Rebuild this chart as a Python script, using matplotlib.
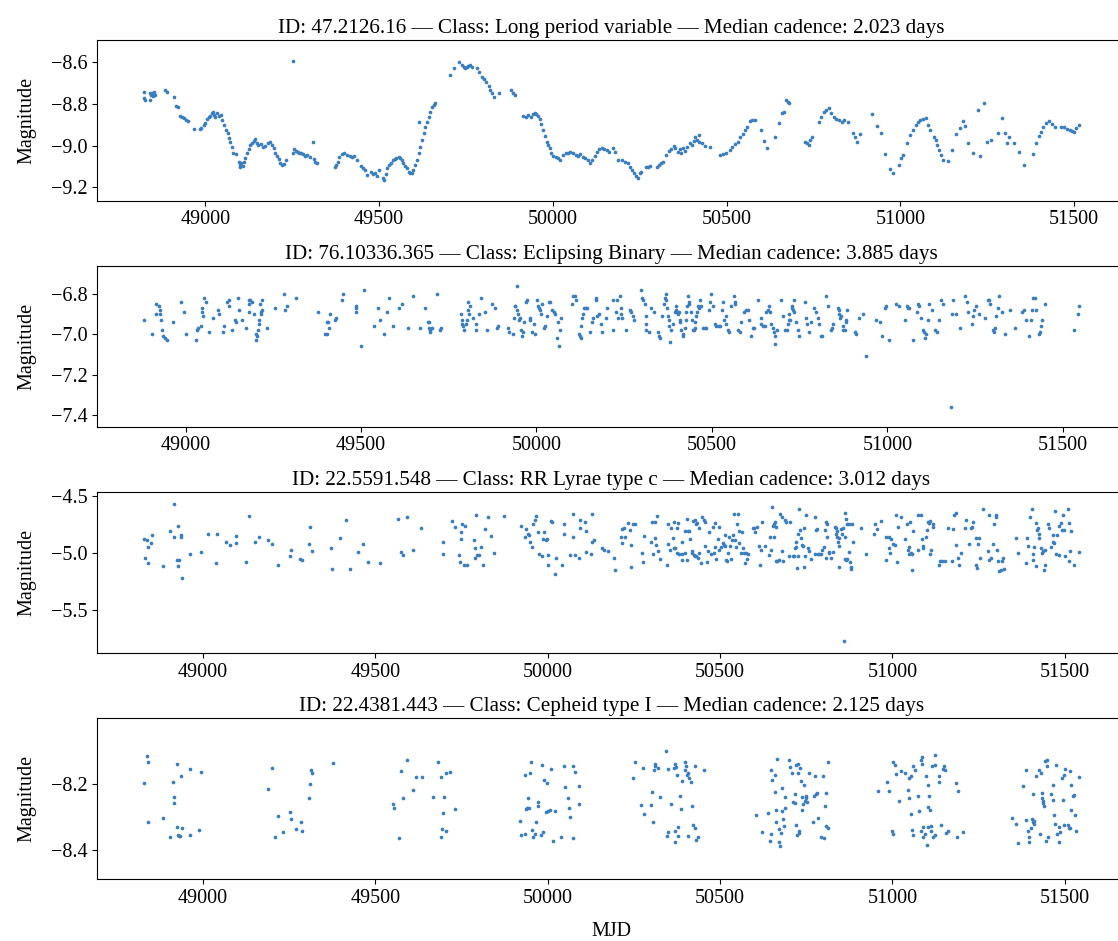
import numpy as np
import matplotlib
matplotlib.use("Agg")
import matplotlib.pyplot as plt
from matplotlib.ticker import MaxNLocator, MultipleLocator

# light curves: (MJD, magnitude)
lpv_points = [
    (48823, -8.741), (48823, -8.773), (48826, -8.781), (48840, -8.749), (48842, -8.781), (48844, -8.757),
    (48847, -8.749), (48850, -8.762), (48853, -8.742), (48856, -8.757), (48885, -8.733), (48890, -8.741),
    (48909, -8.768), (48917, -8.810), (48921, -8.816), (48928, -8.856), (48933, -8.864), (48940, -8.869),
    (48945, -8.877), (48949, -8.882), (48966, -8.918), (48984, -8.922), (48988, -8.914), (48995, -8.901),
    (49000, -8.890), (49005, -8.874), (49010, -8.864), (49014, -8.858), (49019, -8.845), (49022, -8.837),
    (49026, -8.853), (49029, -8.864), (49034, -8.842), (49038, -8.858), (49045, -8.853), (49048, -8.877),
    (49053, -8.901), (49060, -8.925), (49064, -8.941), (49068, -8.965), (49072, -8.981), (49076, -9.005),
    (49081, -9.034), (49088, -9.040), (49096, -9.077), (49099, -9.093), (49101, -9.104), (49104, -9.085),
    (49107, -9.098), (49110, -9.077), (49115, -9.061), (49120, -9.037), (49125, -9.018), (49129, -8.997),
    (49134, -8.989), (49139, -8.976), (49144, -8.970), (49149, -8.986), (49153, -8.997), (49160, -8.992),
    (49165, -9.005), (49173, -9.002), (49179, -8.989), (49187, -8.981), (49192, -8.997), (49197, -9.013),
    (49201, -9.034), (49206, -9.050), (49211, -9.066), (49216, -9.085), (49221, -9.093), (49225, -9.088),
    (49233, -9.069), (49251, -8.592), (49252, -9.034), (49256, -9.018), (49262, -9.024), (49266, -9.029),
    (49271, -9.037), (49275, -9.034), (49281, -9.040), (49288, -9.050), (49294, -9.045), (49302, -9.053),
    (49310, -8.984), (49312, -9.066), (49316, -9.077), (49321, -9.085),
    (49374, -9.104), (49377, -9.093), (49381, -9.077), (49386, -9.053), (49393, -9.040), (49400, -9.037),
    (49407, -9.045), (49415, -9.050), (49422, -9.053), (49427, -9.050), (49436, -9.069), (49448, -9.098),
    (49454, -9.109), (49460, -9.117), (49465, -9.141), (49477, -9.125), (49482, -9.136), (49489, -9.130),
    (49494, -9.149), (49499, -9.117), (49511, -9.157), (49515, -9.165), (49519, -9.136), (49524, -9.109),
    (49530, -9.093), (49535, -9.085), (49540, -9.072), (49545, -9.066), (49549, -9.058), (49556, -9.053),
    (49561, -9.061), (49566, -9.069), (49570, -9.082), (49575, -9.098), (49580, -9.109), (49585, -9.125),
    (49590, -9.133), (49595, -9.130), (49599, -9.117), (49604, -9.093), (49609, -9.069), (49614, -8.885),
    (49615, -9.037), (49618, -9.008), (49623, -8.973), (49628, -8.941), (49633, -8.909), (49638, -8.885),
    (49643, -8.864), (49647, -8.837), (49652, -8.816), (49657, -8.805), (49662, -8.794),
    (49703, -8.661), (49717, -8.629), (49731, -8.597), (49738, -8.613), (49743, -8.621), (49748, -8.629),
    (49753, -8.624), (49757, -8.618), (49762, -8.613), (49767, -8.624), (49783, -8.629), (49789, -8.645),
    (49796, -8.669), (49802, -8.682), (49808, -8.693), (49815, -8.714), (49820, -8.733), (49825, -8.746),
    (49831, -8.765), (49844, -8.746), (49879, -8.733), (49884, -8.746), (49891, -8.757),
    (49915, -8.858), (49923, -8.864), (49929, -8.853), (49936, -8.864), (49942, -8.848), (49948, -8.842),
    (49953, -8.848), (49958, -8.858), (49962, -8.874), (49967, -8.896), (49972, -8.925), (49977, -8.954),
    (49982, -8.981), (49987, -8.997), (49991, -9.013), (49996, -9.034), (50001, -9.050), (50008, -9.053),
    (50015, -9.058), (50021, -9.069), (50029, -9.045), (50037, -9.037), (50044, -9.034), (50050, -9.029),
    (50058, -9.037), (50066, -9.045), (50072, -9.050), (50077, -9.040), (50087, -9.056), (50094, -9.061),
    (50102, -9.072), (50107, -9.082), (50112, -9.072), (50121, -9.050), (50126, -9.029), (50134, -9.018),
    (50141, -9.013), (50148, -9.018), (50155, -9.021), (50163, -9.029), (50173, -9.013), (50178, -9.029),
    (50188, -9.069), (50198, -9.072), (50207, -9.077), (50216, -9.085), (50223, -9.101), (50228, -9.117),
    (50233, -9.133), (50238, -9.149), (50245, -9.157), (50250, -9.133), (50255, -9.125), (50267, -9.104),
    (50274, -9.101), (50279, -9.098), (50300, -9.101), (50306, -9.093), (50310, -9.082), (50317, -9.077),
    (50326, -9.045), (50334, -9.024), (50341, -9.018), (50348, -9.002), (50353, -9.013), (50360, -9.029),
    (50365, -9.018), (50370, -9.037), (50374, -9.013), (50379, -9.024), (50386, -9.005), (50394, -8.989),
    (50400, -8.997), (50405, -8.976), (50410, -8.960), (50415, -8.973), (50420, -8.949), (50422, -8.981),
    (50429, -8.989), (50437, -9.002), (50451, -9.008), (50480, -9.045), (50489, -9.040), (50499, -9.037),
    (50509, -9.021), (50517, -9.008), (50523, -8.992), (50533, -8.981), (50540, -8.960), (50547, -8.944),
    (50554, -8.925), (50559, -8.909), (50566, -8.880), (50574, -8.877), (50581, -8.877), (50600, -8.925),
    (50609, -8.978), (50617, -9.010), (50638, -8.957), (50652, -8.893), (50659, -8.845), (50664, -8.837),
    (50672, -8.781), (50677, -8.789), (50681, -8.797), (50727, -8.981), (50731, -8.989), (50737, -8.997),
    (50741, -8.973), (50746, -8.957), (50767, -8.885), (50772, -8.861), (50779, -8.837), (50787, -8.829),
    (50794, -8.821), (50801, -8.845), (50808, -8.864), (50815, -8.874), (50823, -8.877), (50832, -8.885),
    (50839, -8.877), (50849, -8.885), (50863, -8.941), (50870, -8.960), (50875, -8.981), (50883, -8.944),
    (50919, -8.848), (50933, -8.904), (50945, -8.938), (50957, -9.042), (50969, -9.114), (50978, -9.133),
    (50995, -9.093), (51002, -9.061), (51007, -9.045), (51019, -8.989), (51028, -8.949), (51036, -8.925),
    (51044, -8.901), (51050, -8.885), (51057, -8.877), (51064, -8.874), (51074, -8.869), (51081, -8.901),
    (51086, -8.925), (51098, -8.957), (51103, -8.973), (51107, -8.997), (51112, -9.021), (51117, -9.045),
    (51122, -9.072), (51137, -9.074), (51148, -9.021), (51159, -8.944), (51172, -8.917), (51180, -8.880),
    (51186, -8.906), (51194, -8.989), (51208, -9.037), (51223, -8.829), (51228, -9.050), (51242, -8.794),
    (51249, -8.981), (51261, -8.973), (51280, -8.938), (51292, -8.869), (51300, -8.941), (51306, -8.989),
    (51314, -8.957), (51327, -8.989), (51341, -9.032), (51355, -9.093), (51382, -9.042), (51391, -8.989),
    (51399, -8.954), (51406, -8.933), (51412, -8.909), (51420, -8.893), (51429, -8.880), (51437, -8.898),
    (51444, -8.909), (51463, -8.909), (51472, -8.912), (51480, -8.922), (51487, -8.925), (51494, -8.928),
    (51500, -8.933), (51507, -8.917), (51515, -8.901),
]

eb_points = [
    (48881, -6.93), (48905, -7.00), (48915, -6.90), (48916, -6.85), (48924, -6.86), (48926, -6.88), (48926, -6.90),
    (48929, -6.93), (48934, -6.98), (48936, -7.01), (48940, -7.02), (48946, -7.03), (48964, -6.94), (48986, -6.84),
    (48995, -6.89), (49000, -7.00), (49030, -7.03), (49033, -6.98), (49035, -6.97), (49043, -6.96), (49048, -6.87),
    (49048, -6.89), (49050, -6.91), (49052, -6.82), (49057, -6.84), (49067, -6.99), (49079, -6.92), (49092, -6.88),
    (49095, -6.90), (49106, -6.99), (49109, -6.96), (49119, -6.84), (49123, -6.83), (49124, -6.86), (49133, -6.98),
    (49141, -6.93), (49144, -6.94), (49150, -6.82), (49152, -6.88), (49162, -6.93), (49171, -6.97), (49181, -6.85),
    (49181, -6.89), (49182, -6.83), (49185, -6.83), (49190, -6.84), (49195, -6.90), (49200, -7.00), (49201, -7.03),
    (49204, -7.01), (49207, -6.98), (49209, -6.95), (49209, -6.93), (49211, -6.85), (49214, -6.90), (49216, -6.89),
    (49217, -6.88), (49219, -6.83), (49233, -6.97), (49255, -6.87), (49280, -6.80), (49282, -6.88), (49288, -6.86),
    (49314, -6.82), (49377, -6.89), (49397, -7.00), (49404, -7.00), (49404, -6.94), (49406, -6.94), (49409, -6.97),
    (49413, -6.90), (49425, -6.93), (49428, -6.92), (49445, -6.83), (49449, -6.80), (49485, -6.86), (49486, -6.87),
    (49487, -6.89), (49499, -7.06), (49508, -6.78), (49538, -6.96), (49548, -6.87), (49554, -6.93), (49565, -7.00),
    (49573, -6.89), (49580, -6.82), (49592, -6.96), (49609, -6.87), (49618, -6.85), (49634, -6.97), (49648, -6.81),
    (49667, -6.97), (49681, -6.87), (49692, -6.94), (49694, -6.97), (49695, -6.94), (49696, -6.99), (49698, -6.98),
    (49701, -6.97), (49717, -6.80), (49724, -6.98), (49727, -6.97), (49784, -6.90), (49787, -6.93), (49789, -6.95),
    (49791, -6.96), (49793, -6.98), (49798, -6.95), (49803, -6.93), (49806, -6.88), (49806, -6.84), (49808, -6.90),
    (49810, -6.86), (49820, -6.92), (49827, -6.95), (49828, -6.98), (49836, -6.90), (49843, -6.82), (49852, -6.89),
    (49858, -6.98), (49874, -6.85), (49881, -6.87), (49888, -6.97), (49890, -6.96), (49919, -6.97), (49923, -6.99),
    (49933, -7.00), (49936, -6.92), (49938, -6.86), (49940, -6.86), (49945, -6.88), (49945, -6.76), (49947, -6.90),
    (49950, -6.93), (49953, -6.92), (49957, -6.98), (49960, -7.01), (49961, -6.99), (49964, -6.94), (49969, -6.84),
    (49974, -6.83), (49981, -6.92), (49983, -6.93), (49988, -6.99), (49993, -6.95), (49996, -7.00), (50002, -6.83),
    (50004, -6.86), (50007, -6.87), (50009, -6.88), (50012, -6.90), (50017, -6.85), (50021, -6.97), (50024, -6.96),
    (50031, -6.91), (50035, -6.84), (50040, -6.84), (50045, -6.88), (50050, -6.89), (50052, -6.90), (50059, -7.02),
    (50061, -6.94), (50064, -7.06), (50067, -6.98), (50069, -6.92), (50102, -6.85), (50105, -6.81), (50109, -6.81),
    (50112, -6.83), (50121, -7.00), (50123, -7.01), (50126, -7.02), (50126, -6.96), (50130, -6.92), (50133, -6.90),
    (50135, -6.87), (50140, -6.87), (50145, -6.87), (50154, -6.99), (50159, -6.94), (50161, -6.92), (50169, -6.83),
    (50171, -6.82), (50173, -6.91), (50178, -6.90), (50183, -6.95), (50187, -6.99), (50197, -6.92), (50202, -6.87),
    (50218, -6.83), (50218, -6.98), (50228, -6.89), (50230, -6.83), (50232, -6.92), (50237, -6.81), (50242, -6.87),
    (50242, -6.90), (50245, -6.92), (50254, -6.98), (50266, -6.88), (50270, -6.89), (50275, -6.91), (50278, -6.93),
    (50299, -6.78), (50302, -6.82), (50305, -6.83), (50308, -6.85), (50311, -6.91), (50311, -6.95), (50313, -6.98),
    (50321, -6.99), (50327, -6.87), (50334, -6.89), (50346, -6.99), (50349, -7.01), (50351, -7.02), (50359, -6.91),
    (50363, -6.85), (50365, -6.82), (50368, -6.80), (50370, -6.83), (50373, -6.87), (50375, -6.91), (50378, -6.93),
    (50379, -6.96), (50381, -7.04), (50384, -6.98), (50389, -6.95), (50394, -6.89), (50397, -6.86), (50398, -6.88),
    (50400, -6.89), (50403, -6.90), (50406, -6.89), (50408, -6.93), (50410, -6.94), (50413, -6.98), (50417, -7.01),
    (50419, -7.00), (50422, -6.97), (50425, -6.93), (50427, -6.89), (50429, -6.86), (50432, -6.81), (50435, -6.85),
    (50436, -6.84), (50441, -6.89), (50444, -6.93), (50446, -6.98), (50448, -6.98), (50451, -6.97), (50453, -6.94),
    (50455, -6.91), (50458, -6.89), (50460, -6.86), (50463, -6.87), (50465, -6.83), (50468, -6.86), (50474, -6.97),
    (50479, -6.97), (50484, -6.97), (50491, -6.88), (50495, -6.84), (50498, -6.80), (50503, -6.86), (50508, -6.95),
    (50512, -6.96), (50520, -6.96), (50524, -6.96), (50529, -6.88), (50531, -6.84), (50534, -6.93), (50539, -6.91),
    (50541, -6.95), (50546, -6.98), (50550, -6.99), (50555, -6.86), (50563, -6.81), (50565, -6.85), (50567, -6.84),
    (50574, -6.98), (50579, -6.99), (50582, -6.94), (50591, -6.89), (50598, -6.88), (50602, -6.88), (50607, -6.93),
    (50612, -7.01), (50617, -6.97), (50621, -6.97), (50631, -6.83), (50639, -6.92), (50640, -6.95), (50645, -6.96),
    (50650, -6.96), (50655, -6.89), (50659, -6.88), (50662, -6.86), (50666, -6.89), (50669, -6.95), (50674, -6.97),
    (50678, -6.99), (50680, -7.01), (50681, -7.05), (50686, -6.98), (50697, -6.83), (50702, -6.91), (50707, -6.98),
    (50714, -6.98), (50716, -6.95), (50719, -6.93), (50721, -6.90), (50724, -6.93), (50727, -6.87), (50729, -6.86),
    (50731, -6.88), (50733, -6.89), (50735, -6.83), (50740, -6.94), (50745, -6.98), (50748, -7.01), (50764, -6.84),
    (50769, -6.92), (50771, -6.95), (50776, -6.99), (50783, -6.94), (50792, -6.87), (50797, -6.89), (50802, -6.92),
    (50805, -6.95), (50811, -7.01), (50814, -7.01), (50825, -6.81), (50831, -6.86), (50840, -6.98), (50843, -6.97),
    (50846, -6.95), (50859, -6.87), (50862, -6.88), (50863, -6.90), (50865, -6.92), (50868, -6.91), (50873, -6.98),
    (50875, -6.96), (50878, -6.98), (50881, -6.94), (50882, -6.93), (50884, -6.88), (50909, -6.99), (50911, -7.00),
    (50918, -6.92), (50930, -6.90), (50939, -7.11), (50968, -6.93), (50980, -6.94), (50985, -7.01), (50992, -6.87),
    (50996, -6.86), (51006, -7.03), (51025, -6.85), (51034, -6.86), (51049, -6.93), (51055, -6.86), (51058, -6.87),
    (51063, -6.87), (51072, -7.03), (51084, -6.89), (51086, -6.85), (51089, -6.86), (51096, -6.92), (51101, -6.98),
    (51105, -6.99), (51108, -7.02), (51110, -7.00), (51115, -6.93), (51120, -6.85), (51127, -6.88), (51137, -6.98),
    (51141, -6.99), (51146, -6.93), (51153, -6.83), (51160, -6.85), (51181, -7.36), (51184, -6.90), (51188, -6.83),
    (51197, -6.90), (51207, -6.97), (51222, -6.81), (51226, -6.84), (51229, -6.89), (51241, -6.95), (51243, -6.91),
    (51248, -6.88), (51254, -6.86), (51262, -6.90), (51279, -6.92), (51286, -6.83), (51289, -6.83), (51292, -6.85),
    (51300, -6.98), (51303, -6.99), (51308, -6.97), (51311, -6.91), (51314, -6.87), (51319, -6.81), (51327, -6.89),
    (51336, -7.00), (51349, -6.88), (51365, -6.97), (51383, -6.89), (51390, -6.88), (51395, -6.93), (51404, -7.01),
    (51409, -6.93), (51412, -6.88), (51416, -6.82), (51421, -6.82), (51425, -6.88), (51431, -7.00), (51435, -6.99),
    (51439, -6.96), (51440, -6.93), (51450, -6.85), (51532, -6.98), (51542, -6.90), (51547, -6.86),
]

rrc_points = [
    (48828, -4.88), (48832, -5.04), (48838, -4.89), (48839, -5.09), (48840, -4.95), (48850, -4.91), (48853, -4.84),
    (48883, -5.11), (48905, -4.81), (48915, -4.86), (48917, -4.57), (48925, -5.06), (48927, -4.76), (48927, -5.11),
    (48929, -5.06), (48936, -4.86), (48937, -4.84), (48939, -5.22), (48963, -5.01), (48994, -4.99), (49014, -4.83),
    (49036, -5.09), (49041, -4.83), (49067, -4.90), (49079, -4.93), (49094, -4.91), (49096, -4.85), (49124, -5.08),
    (49132, -4.68), (49151, -4.90), (49161, -4.86), (49187, -4.89), (49200, -4.92), (49218, -5.10), (49251, -5.03),
    (49255, -4.97), (49281, -5.05), (49287, -5.06), (49306, -4.92), (49310, -4.77), (49315, -4.98), (49371, -4.96),
    (49374, -5.14), (49397, -4.87), (49414, -4.71), (49425, -5.14), (49450, -4.99), (49465, -4.92), (49477, -5.08),
    (49513, -5.09), (49566, -4.70), (49573, -4.99), (49580, -5.02), (49592, -4.69), (49608, -4.97), (49632, -4.78),
    (49696, -4.90), (49696, -5.01), (49723, -4.72), (49730, -4.77), (49742, -5.02), (49747, -4.88), (49749, -4.82),
    (49750, -4.75), (49746, -5.08), (49756, -5.10), (49761, -4.76), (49766, -5.10), (49785, -4.89), (49788, -4.96),
    (49790, -5.04), (49791, -4.67), (49795, -5.02), (49800, -5.02), (49806, -4.95), (49811, -5.10), (49819, -4.79),
    (49827, -4.69), (49834, -4.85), (49844, -5.00), (49874, -4.68), (49923, -4.76), (49933, -4.86), (49938, -4.79),
    (49942, -4.83), (49945, -4.84), (49948, -4.90), (49953, -4.95), (49957, -4.75), (49962, -4.71), (49966, -4.68),
    (49972, -4.82), (49974, -5.01), (49983, -5.03), (49986, -4.88), (49990, -4.82), (49994, -4.89), (49998, -4.88),
    (50000, -5.02), (50001, -5.10), (50008, -4.72), (50013, -4.73), (50022, -5.18), (50024, -5.04), (50040, -5.10),
    (50046, -4.75), (50048, -4.83), (50064, -5.02), (50072, -4.66), (50074, -4.86), (50079, -5.02), (50091, -5.04),
    (50093, -4.71), (50094, -4.78), (50109, -4.73), (50111, -4.81), (50111, -4.99), (50124, -5.01), (50127, -4.90),
    (50128, -4.66), (50133, -4.89), (50156, -4.96), (50162, -4.97), (50174, -4.98),
    (50192, -5.04), (50195, -5.15), (50211, -4.86), (50216, -4.91), (50216, -4.79), (50220, -4.78), (50225, -4.86),
    (50232, -4.74), (50239, -4.80), (50242, -4.93), (50242, -5.12), (50247, -4.75), (50253, -4.75), (50272, -5.00),
    (50276, -5.08), (50278, -4.85), (50300, -4.90), (50303, -4.73), (50305, -5.01), (50310, -4.87), (50312, -4.73),
    (50314, -4.93), (50317, -4.68), (50319, -4.98), (50327, -5.05), (50347, -5.10), (50348, -4.75), (50350, -4.92),
    (50355, -4.97), (50358, -4.78), (50363, -4.87), (50366, -4.73), (50367, -4.96), (50369, -4.96), (50374, -5.00),
    (50375, -4.78), (50377, -4.74), (50382, -5.01), (50388, -4.90), (50389, -5.06), (50390, -5.01), (50397, -4.81),
    (50399, -5.00), (50403, -4.70), (50404, -5.06), (50407, -4.81), (50411, -4.81), (50414, -4.88), (50418, -5.00),
    (50419, -4.98), (50421, -4.72), (50424, -5.02), (50426, -4.71), (50427, -5.03), (50429, -4.75), (50430, -5.03),
    (50433, -4.74), (50435, -5.04), (50438, -5.00), (50440, -4.78), (50445, -5.09), (50448, -4.69), (50452, -4.71),
    (50455, -4.94), (50457, -4.73), (50461, -5.08), (50464, -4.98), (50469, -4.82), (50474, -5.01), (50479, -4.77),
    (50482, -5.00), (50484, -4.95), (50486, -4.74), (50488, -5.05), (50493, -4.88), (50496, -4.77), (50498, -4.97),
    (50503, -4.95), (50508, -4.91), (50510, -4.93), (50513, -4.84), (50515, -4.94), (50517, -5.06), (50520, -5.07),
    (50522, -5.00), (50525, -4.86), (50529, -4.94), (50532, -5.05), (50535, -4.89), (50537, -4.84), (50540, -4.66),
    (50544, -4.89), (50546, -4.95), (50549, -4.75), (50551, -4.66), (50554, -4.81), (50556, -4.91), (50561, -5.00),
    (50564, -4.82), (50566, -4.96), (50569, -5.00), (50572, -5.09), (50575, -5.00), (50577, -5.05), (50581, -5.01),
    (50595, -4.78), (50598, -4.78), (50601, -4.82), (50606, -4.77), (50612, -4.94), (50616, -5.10), (50620, -4.97),
    (50622, -4.73), (50630, -4.94), (50641, -5.02), (50645, -4.86), (50648, -4.97), (50650, -4.60), (50653, -4.76),
    (50655, -4.86), (50657, -4.75), (50659, -4.73), (50661, -5.07), (50662, -4.77), (50666, -5.07), (50670, -5.06),
    (50674, -4.66), (50680, -4.98), (50680, -4.69), (50682, -5.07), (50687, -4.71), (50691, -4.73), (50701, -5.03),
    (50704, -4.73), (50711, -5.03), (50714, -5.03), (50716, -4.96), (50719, -4.90), (50720, -4.95), (50722, -5.13),
    (50725, -5.03), (50726, -4.83), (50730, -4.62), (50733, -4.80), (50735, -4.87), (50738, -4.93), (50740, -4.94),
    (50744, -4.78), (50744, -5.12), (50747, -5.03), (50749, -4.67), (50754, -4.96), (50759, -4.98), (50765, -5.05),
    (50774, -5.01), (50775, -4.69), (50777, -4.80), (50780, -4.79), (50784, -5.01), (50788, -5.01), (50793, -5.01),
    (50796, -4.97), (50802, -4.95), (50803, -4.80), (50806, -4.73), (50808, -5.04), (50809, -4.75), (50811, -4.86),
    (50815, -5.00), (50817, -4.99), (50822, -5.04), (50827, -4.99), (50832, -4.77), (50835, -4.78), (50837, -4.83),
    (50838, -4.81), (50839, -4.86), (50841, -4.90), (50844, -4.94), (50844, -5.12), (50846, -4.87), (50851, -4.79),
    (50854, -4.83), (50856, -4.78), (50859, -5.77), (50861, -4.86), (50861, -5.05), (50863, -4.65), (50864, -5.06),
    (50866, -4.70), (50867, -5.05), (50868, -4.75), (50873, -4.75), (50875, -4.99), (50878, -5.08), (50880, -5.12),
    (50881, -5.14), (50883, -4.75), (50885, -4.90), (50909, -4.78), (50922, -5.01), (50945, -4.83), (50950, -4.75),
    (50955, -4.79), (50967, -4.72), (50980, -5.06), (50982, -4.86), (50989, -4.96), (50991, -4.86), (50993, -5.00),
    (50996, -4.88), (51001, -4.92), (51006, -4.93), (51009, -4.67), (51013, -5.08), (51017, -4.77), (51025, -4.69),
    (51035, -4.88), (51042, -4.75), (51046, -4.97), (51049, -5.01), (51049, -4.95), (51052, -4.73), (51054, -5.00),
    (51057, -5.01), (51057, -5.15), (51061, -4.81), (51073, -4.97), (51075, -4.67), (51083, -4.67), (51086, -4.88),
    (51088, -4.96), (51090, -4.94), (51098, -4.86), (51101, -4.80), (51102, -4.73), (51105, -4.74), (51109, -4.72),
    (51109, -5.01), (51112, -4.97), (51117, -4.77), (51119, -4.75), (51134, -5.10), (51138, -5.07), (51144, -5.07),
    (51151, -5.07), (51160, -4.78), (51173, -5.07), (51175, -4.79), (51178, -4.67), (51183, -4.93), (51185, -4.65),
    (51189, -5.04), (51194, -5.10), (51199, -5.00), (51211, -4.78), (51213, -4.71), (51223, -4.92), (51228, -4.78),
    (51231, -4.77), (51235, -4.73), (51243, -4.87), (51243, -5.10), (51246, -5.13), (51247, -4.92), (51252, -4.87),
    (51255, -5.04), (51262, -4.62), (51276, -4.98), (51279, -4.67), (51281, -5.06), (51286, -5.04), (51291, -4.92),
    (51296, -4.75), (51299, -4.69), (51301, -4.67), (51304, -4.97), (51307, -5.07), (51310, -5.16), (51315, -5.15),
    (51318, -5.07), (51322, -5.04), (51325, -5.14), (51359, -4.87), (51364, -5.00), (51386, -5.09), (51391, -4.87),
    (51393, -4.94), (51399, -4.69), (51405, -4.62), (51407, -5.06), (51409, -5.01), (51412, -4.95), (51415, -4.74),
    (51417, -5.11), (51419, -4.80), (51422, -4.78), (51424, -4.87), (51426, -4.83), (51431, -4.96), (51434, -5.00),
    (51436, -4.98), (51439, -5.15), (51442, -5.10), (51444, -4.97), (51451, -4.75), (51453, -4.78), (51460, -4.95),
    (51465, -4.90), (51467, -4.84), (51470, -4.91), (51472, -4.63), (51475, -5.01), (51477, -4.84), (51482, -5.02),
    (51484, -4.76), (51489, -4.74), (51492, -4.80), (51494, -4.67), (51499, -4.80), (51502, -5.03), (51509, -4.62),
    (51511, -5.07), (51513, -4.74), (51515, -4.98), (51518, -4.81), (51528, -5.10), (51542, -4.99),
]

cep_points = [
    (48828, -8.198), (48837, -8.115), (48840, -8.134), (48839, -8.317), (48883, -8.305), (48905, -8.363),
    (48912, -8.196), (48915, -8.241), (48917, -8.259), (48924, -8.141), (48924, -8.332), (48926, -8.357),
    (48929, -8.360), (48934, -8.359), (48936, -8.178), (48939, -8.333), (48961, -8.155), (48963, -8.357),
    (48987, -8.341), (48994, -8.164),
    (49188, -8.216), (49200, -8.152), (49210, -8.362), (49218, -8.297), (49232, -8.346), (49252, -8.285),
    (49256, -8.307), (49270, -8.338), (49283, -8.317), (49288, -8.342), (49307, -8.243), (49310, -8.201),
    (49314, -8.160), (49315, -8.168), (49376, -8.138),
    (49550, -8.262), (49555, -8.275), (49567, -8.364), (49574, -8.163), (49581, -8.243), (49592, -8.127),
    (49609, -8.219), (49618, -8.180), (49634, -8.179), (49667, -8.241), (49682, -8.135), (49691, -8.181),
    (49691, -8.361), (49694, -8.336), (49697, -8.289), (49699, -8.241), (49706, -8.167), (49705, -8.345),
    (49717, -8.166), (49730, -8.277),
    (49920, -8.313), (49923, -8.355), (49934, -8.353), (49934, -8.174), (49936, -8.276), (49940, -8.274),
    (49943, -8.244), (49945, -8.275), (49948, -8.168), (49950, -8.135), (49953, -8.341), (49957, -8.361),
    (49962, -8.353), (49966, -8.315), (49971, -8.269), (49973, -8.257), (49981, -8.355), (49984, -8.143),
    (49986, -8.348), (49990, -8.190), (49995, -8.286), (49998, -8.198), (50000, -8.282), (50005, -8.280),
    (50008, -8.155), (50014, -8.375), (50022, -8.284), (50039, -8.362), (50047, -8.145), (50049, -8.211),
    (50058, -8.242), (50062, -8.274), (50064, -8.302), (50072, -8.365), (50073, -8.146), (50078, -8.164),
    (50091, -8.208), (50091, -8.262),
    (50247, -8.183), (50253, -8.134), (50276, -8.152), (50271, -8.264), (50278, -8.292), (50300, -8.266),
    (50302, -8.225), (50305, -8.315), (50308, -8.157), (50310, -8.147), (50312, -8.140), (50319, -8.152),
    (50327, -8.240), (50343, -8.102), (50348, -8.155), (50346, -8.360), (50350, -8.347), (50358, -8.261),
    (50365, -8.152), (50368, -8.345), (50370, -8.140), (50370, -8.376), (50372, -8.149), (50375, -8.173),
    (50377, -8.360), (50379, -8.332), (50384, -8.237), (50387, -8.277), (50390, -8.193), (50397, -8.135),
    (50398, -8.159), (50401, -8.147), (50403, -8.173), (50406, -8.168), (50406, -8.360), (50409, -8.183),
    (50416, -8.196), (50418, -8.269), (50421, -8.325), (50426, -8.335), (50428, -8.147), (50430, -8.371),
    (50437, -8.362), (50452, -8.157),
    (50604, -8.296), (50622, -8.347), (50638, -8.289), (50645, -8.373), (50648, -8.353), (50648, -8.159),
    (50651, -8.188), (50658, -8.226), (50660, -8.173), (50661, -8.279), (50662, -8.315), (50665, -8.125),
    (50670, -8.338), (50672, -8.376), (50675, -8.389), (50677, -8.350), (50680, -8.213), (50680, -8.282),
    (50682, -8.308), (50684, -8.327), (50687, -8.239), (50689, -8.274), (50701, -8.129), (50704, -8.150),
    (50708, -8.169), (50711, -8.256), (50716, -8.259), (50718, -8.231), (50720, -8.325), (50720, -8.144),
    (50722, -8.355), (50725, -8.140), (50727, -8.169), (50728, -8.343), (50730, -8.350), (50733, -8.152),
    (50735, -8.191), (50737, -8.281), (50738, -8.239), (50740, -8.262), (50743, -8.205), (50745, -8.254),
    (50748, -8.244), (50749, -8.237), (50751, -8.256), (50759, -8.169), (50769, -8.315), (50771, -8.236),
    (50774, -8.178), (50777, -8.231), (50780, -8.228), (50784, -8.303), (50793, -8.362), (50798, -8.178),
    (50800, -8.365), (50804, -8.269), (50806, -8.228), (50808, -8.328), (50812, -8.135), (50814, -8.335),
    (50957, -8.221), (50984, -8.196), (50989, -8.221), (50999, -8.345), (51001, -8.135), (51003, -8.353),
    (51006, -8.142), (51011, -8.171), (51018, -8.254), (51025, -8.162), (51035, -8.168), (51044, -8.218),
    (51049, -8.183), (51049, -8.244), (51054, -8.178), (51054, -8.292), (51056, -8.340), (51059, -8.357),
    (51061, -8.147), (51064, -8.157), (51073, -8.237), (51076, -8.282), (51083, -8.343), (51084, -8.127),
    (51086, -8.120), (51086, -8.140), (51088, -8.363), (51090, -8.330), (51093, -8.353), (51098, -8.176),
    (51100, -8.386), (51102, -8.205), (51102, -8.330), (51104, -8.270), (51107, -8.236), (51109, -8.279),
    (51112, -8.345), (51113, -8.328), (51115, -8.145), (51117, -8.363), (51122, -8.114), (51122, -8.144),
    (51122, -8.355), (51134, -8.195), (51136, -8.178), (51141, -8.325), (51146, -8.154), (51149, -8.147),
    (51151, -8.160), (51156, -8.350), (51160, -8.345), (51185, -8.198), (51187, -8.363), (51189, -8.221),
    (51204, -8.347),
    (51346, -8.305), (51359, -8.323), (51364, -8.381), (51378, -8.206), (51386, -8.311), (51388, -8.157),
    (51393, -8.343), (51395, -8.363), (51395, -8.378), (51402, -8.335), (51404, -8.307), (51407, -8.231),
    (51407, -8.315), (51410, -8.313), (51412, -8.323), (51417, -8.178), (51424, -8.157), (51429, -8.352),
    (51431, -8.168), (51433, -8.228), (51434, -8.242), (51436, -8.254), (51438, -8.259), (51441, -8.269),
    (51444, -8.132), (51446, -8.374), (51448, -8.127), (51449, -8.147), (51451, -8.363), (51460, -8.231),
    (51465, -8.251), (51467, -8.205), (51470, -8.294), (51473, -8.322), (51475, -8.142), (51477, -8.353),
    (51482, -8.376), (51484, -8.330), (51487, -8.347), (51492, -8.183), (51494, -8.251), (51497, -8.175),
    (51499, -8.325), (51502, -8.155), (51509, -8.325), (51513, -8.335), (51515, -8.162), (51516, -8.333),
    (51518, -8.205), (51518, -8.281), (51523, -8.236), (51528, -8.234), (51530, -8.294), (51533, -8.342),
    (51542, -8.181),
]

star_ids = ["47.2126.16", "76.10336.365", "22.5591.548", "22.4381.443"]
star_classes = ["Long period variable", "Eclipsing Binary", "RR Lyrae type c", "Cepheid type I"]
cadences = [2.023, 3.885, 3.012, 2.125]

plt.rcParams['font.family'] = ['Liberation Serif', 'DejaVu Serif']
plt.rcParams['font.size'] = 14.5

fig, axes = plt.subplots(4, 1, figsize=(11.18, 9.41), dpi=100)
fig.subplots_adjust(left=0.0868, right=1.0072, top=0.9575, bottom=0.0659, hspace=0.408)

for ax, pts, sid, cls, cad in zip(axes, [lpv_points, eb_points, rrc_points, cep_points],
                                  star_ids, star_classes, cadences):
    mjd, mag = np.array(pts).T
    ax.scatter(mjd, mag, s=7, color='#3b7ec0', linewidths=0)
    ax.set_ylim(mag.min() - 0.1, mag.max() + 0.1)
    ax.xaxis.set_major_locator(MultipleLocator(500))
    ax.yaxis.set_major_locator(MaxNLocator(4, steps=[1, 2, 5, 10]))
    ax.set_ylabel("Magnitude", labelpad=10)
    ax.set_title(f"ID: {sid} \u2014 Class: {cls} \u2014 Median cadence: {cad:.3f} days",
                 fontsize=15.2, pad=5)

axes[-1].set_xlabel("MJD", labelpad=10)

fig.savefig("out.png", dpi=100)
